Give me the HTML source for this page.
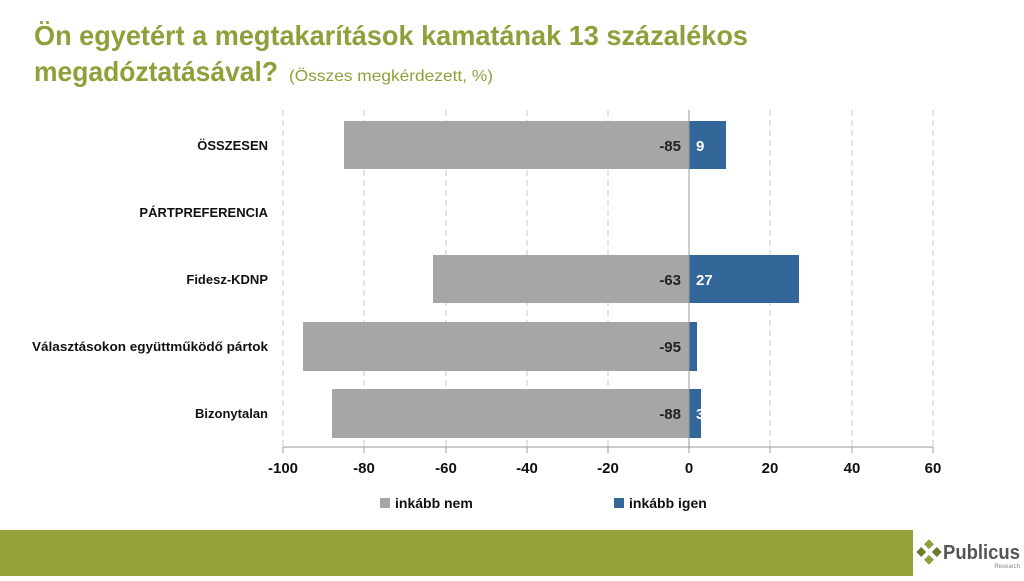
<!DOCTYPE html>
<html><head><meta charset="utf-8"><style>
body{margin:0;width:1024px;height:576px;background:#fff;overflow:hidden;font-family:"Liberation Sans",sans-serif}
</style></head><body>
<svg width="1024" height="576" xmlns="http://www.w3.org/2000/svg" font-family="Liberation Sans, sans-serif">
<text x="34" y="45" font-size="28" font-weight="bold" fill="#8fa03a" textLength="714" lengthAdjust="spacingAndGlyphs">Ön egyetért a megtakarítások kamatának 13 százalékos</text>
<text x="34" y="81" font-size="28" font-weight="bold" fill="#8fa03a" textLength="244" lengthAdjust="spacingAndGlyphs">megadóztatásával?</text>
<text x="289" y="81" font-size="16" fill="#8fa03a" textLength="204" lengthAdjust="spacingAndGlyphs">(Összes megkérdezett, %)</text>
<g stroke="#c8c8c8" stroke-dasharray="6,4" stroke-width="1">
<line x1="283" y1="110" x2="283" y2="447"/><line x1="364" y1="110" x2="364" y2="447"/><line x1="446" y1="110" x2="446" y2="447"/><line x1="527" y1="110" x2="527" y2="447"/><line x1="608" y1="110" x2="608" y2="447"/><line x1="770" y1="110" x2="770" y2="447"/><line x1="852" y1="110" x2="852" y2="447"/><line x1="933" y1="110" x2="933" y2="447"/>
</g>
<g fill="#a6a6a6">
<rect x="344" y="121" width="345" height="48"/>
<rect x="433" y="255" width="256" height="48"/>
<rect x="303" y="322" width="386" height="49"/>
<rect x="332" y="389" width="357" height="49"/>
</g>
<g fill="#336699">
<rect x="689" y="121" width="37" height="48"/>
<rect x="689" y="255" width="110" height="48"/>
<rect x="689" y="322" width="8" height="49"/>
<rect x="689" y="389" width="12" height="49"/>
</g>
<g stroke="#999" stroke-width="1">
<line x1="689" y1="110" x2="689" y2="447"/>
<line x1="283" y1="447" x2="933" y2="447"/>
<line x1="283" y1="447" x2="283" y2="453"/><line x1="364" y1="447" x2="364" y2="453"/><line x1="446" y1="447" x2="446" y2="453"/><line x1="527" y1="447" x2="527" y2="453"/><line x1="608" y1="447" x2="608" y2="453"/><line x1="689" y1="447" x2="689" y2="453"/><line x1="770" y1="447" x2="770" y2="453"/><line x1="852" y1="447" x2="852" y2="453"/><line x1="933" y1="447" x2="933" y2="453"/>
</g>
<g font-size="15" font-weight="bold" fill="#222" text-anchor="end">
<text x="681" y="151">-85</text><text x="681" y="285">-63</text><text x="681" y="352">-95</text><text x="681" y="419">-88</text>
</g>
<g font-size="15" font-weight="bold" fill="#fff">
<text x="696" y="151">9</text><text x="696" y="285">27</text><text x="696" y="419">3</text>
</g>
<g font-size="13" font-weight="bold" fill="#111" text-anchor="end">
<text x="268" y="150">ÖSSZESEN</text><text x="268" y="217">PÁRTPREFERENCIA</text><text x="268" y="284">Fidesz-KDNP</text><text x="268" y="351" textLength="236" lengthAdjust="spacingAndGlyphs">Választásokon együttműködő pártok</text><text x="268" y="418">Bizonytalan</text>
</g>
<g font-size="15" font-weight="bold" fill="#111" text-anchor="middle">
<text x="283" y="473">-100</text><text x="364" y="473">-80</text><text x="446" y="473">-60</text><text x="527" y="473">-40</text><text x="608" y="473">-20</text><text x="689" y="473">0</text><text x="770" y="473">20</text><text x="852" y="473">40</text><text x="933" y="473">60</text>
</g>
<rect x="380" y="498" width="10" height="10" fill="#a6a6a6"/>
<text x="395" y="508" font-size="14" font-weight="bold" fill="#111">inkább nem</text>
<rect x="614" y="498" width="10" height="10" fill="#336699"/>
<text x="629" y="508" font-size="14" font-weight="bold" fill="#111">inkább igen</text>
<rect x="0" y="530" width="913" height="46" fill="#96a23a"/>
<g transform="translate(929,552) rotate(45)" fill="#8fa03a">
<rect x="-9" y="-9" width="7" height="7"/><rect x="2" y="-9" width="7" height="7" fill="#6d7d2a"/><rect x="-9" y="2" width="7" height="7" fill="#6d7d2a"/><rect x="2" y="2" width="7" height="7"/>
</g>
<text x="943" y="559" font-size="20" font-weight="bold" fill="#555" textLength="77" lengthAdjust="spacingAndGlyphs">Publicus</text>
<text x="1020" y="568" font-size="6" fill="#888" text-anchor="end">Research</text>
</svg>
</body></html>
